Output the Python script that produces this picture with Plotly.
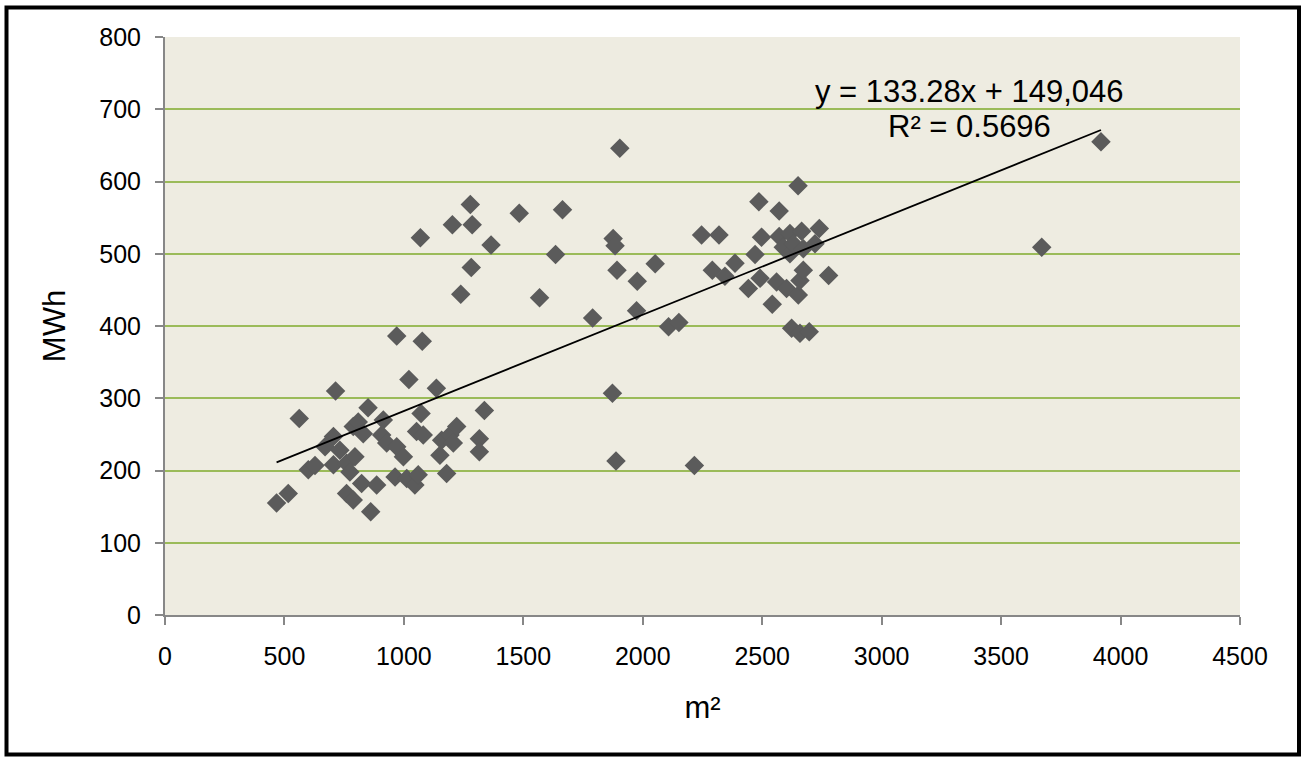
import plotly.graph_objects as go

# Surface (m²) and consumption (MWh) for each building
area_m2 = [467, 516, 562, 600, 628, 670, 705, 705, 714, 732,
           760, 760, 774, 788, 788, 795, 809, 823, 830, 850,
           861, 886, 907, 914, 928, 963, 970, 970, 998, 1012,
           1021, 1046, 1053, 1060, 1069, 1072, 1077, 1081, 1136, 1151,
           1158, 1179, 1193, 1203, 1207, 1221, 1238, 1278, 1282, 1286,
           1316, 1316, 1337, 1365, 1483, 1568, 1635, 1664, 1790, 1873,
           1876, 1884, 1888, 1892, 1904, 1974, 1977, 2052, 2108, 2151,
           2216, 2246, 2291, 2319, 2344, 2386, 2442, 2470, 2486, 2491,
           2497, 2542, 2560, 2571, 2571, 2588, 2602, 2616, 2616, 2623,
           2630, 2650, 2651, 2658, 2658, 2665, 2672, 2672, 2697, 2721,
           2739, 2778, 3670, 3918]
energy_mwh = [155, 168, 272, 201, 207, 233, 247, 208, 310, 228,
              210, 168, 198, 261, 159, 219, 267, 182, 251, 287,
              143, 180, 249, 270, 238, 191, 233, 386, 219, 189,
              326, 180, 254, 194, 522, 279, 379, 249, 314, 221,
              242, 196, 249, 540, 238, 261, 444, 568, 481, 540,
              244, 226, 283, 512, 556, 439, 499, 561, 411, 307,
              521, 511, 213, 477, 646, 421, 462, 486, 399, 405,
              207, 526, 477, 526, 469, 487, 452, 499, 572, 466,
              523, 430, 461, 559, 524, 509, 452, 528, 500, 397,
              514, 594, 443, 463, 390, 531, 507, 477, 392, 514,
              535, 470, 509, 655]

# Linear trend (from the equation shown on the chart, x in m², y in MWh)
trend_slope = 0.13328
trend_intercept = 149.046
equation_text = "y = 133.28x + 149,046"
r2_text = "R² = 0.5696"

x_ticks = [0, 500, 1000, 1500, 2000, 2500, 3000, 3500, 4000, 4500]
y_ticks = [0, 100, 200, 300, 400, 500, 600, 700, 800]

FONT = "Liberation Sans, Arial, sans-serif"

x_min, x_max = min(area_m2), max(area_m2)
trend_x = [x_min, x_max]
trend_y = [trend_slope * v + trend_intercept for v in trend_x]

fig = go.Figure()
fig.add_trace(go.Scatter(
    x=area_m2, y=energy_mwh, mode="markers",
    marker=dict(symbol="diamond", size=15, color="#5b5b5b", line=dict(width=0)),
    showlegend=False, hoverinfo="x+y"))
fig.add_trace(go.Scatter(
    x=trend_x, y=trend_y, mode="lines",
    line=dict(color="black", width=1.8),
    showlegend=False, hoverinfo="skip"))

L, R, T, B = 165, 62, 37, 143
W, H = 1302, 758
pw, ph = W - L - R, H - T - B

def px_x(p):
    return (p - L) / pw

def px_y(p):
    return (H - B - p) / ph

fig.update_layout(
    width=W, height=H,
    margin=dict(l=L, r=R, t=T, b=B, pad=0),
    paper_bgcolor="white",
    plot_bgcolor="#eeece1",
    font=dict(family=FONT, size=25, color="black"),
    xaxis=dict(
        range=[0, 4500], tickvals=x_ticks, ticktext=[str(v) for v in x_ticks],
        showgrid=False, zeroline=False,
        showline=True, linecolor="#878787", linewidth=2,
        ticks="outside", ticklen=8, tickwidth=2, tickcolor="#878787",
        ticklabelstandoff=10,
        tickfont=dict(family=FONT, size=25, color="black"),
        title=dict(text="m²", font=dict(family=FONT, size=31, color="black"), standoff=27),
    ),
    yaxis=dict(
        range=[0, 800], tickvals=y_ticks, ticktext=[str(v) for v in y_ticks],
        showgrid=True, gridcolor="#9bbb59", gridwidth=2,
        zeroline=False,
        showline=True, linecolor="#878787", linewidth=2,
        ticks="outside", ticklen=8, tickwidth=2, tickcolor="#878787",
        ticklabelstandoff=9,
        tickfont=dict(family=FONT, size=25, color="black"),
        title=dict(text="MWh", font=dict(family=FONT, size=31, color="black"), standoff=24),
    ),
    annotations=[
        dict(text=equation_text, xref="paper", yref="paper",
             x=px_x(969), y=px_y(91), xanchor="center", yanchor="middle",
             showarrow=False, font=dict(family=FONT, size=31, color="black")),
        dict(text=r2_text, xref="paper", yref="paper",
             x=px_x(969), y=px_y(126), xanchor="center", yanchor="middle",
             showarrow=False, font=dict(family=FONT, size=31, color="black")),
    ],
    shapes=[
        dict(type="rect", xref="paper", yref="paper",
             x0=px_x(6.5), x1=px_x(1299), y0=px_y(754.5), y1=px_y(7.5),
             line=dict(color="black", width=4), fillcolor="rgba(0,0,0,0)", layer="above"),
    ],
)

fig.write_html("out.html", config={"displayModeBar": False},
               post_script="document.body.style.margin='0';")
